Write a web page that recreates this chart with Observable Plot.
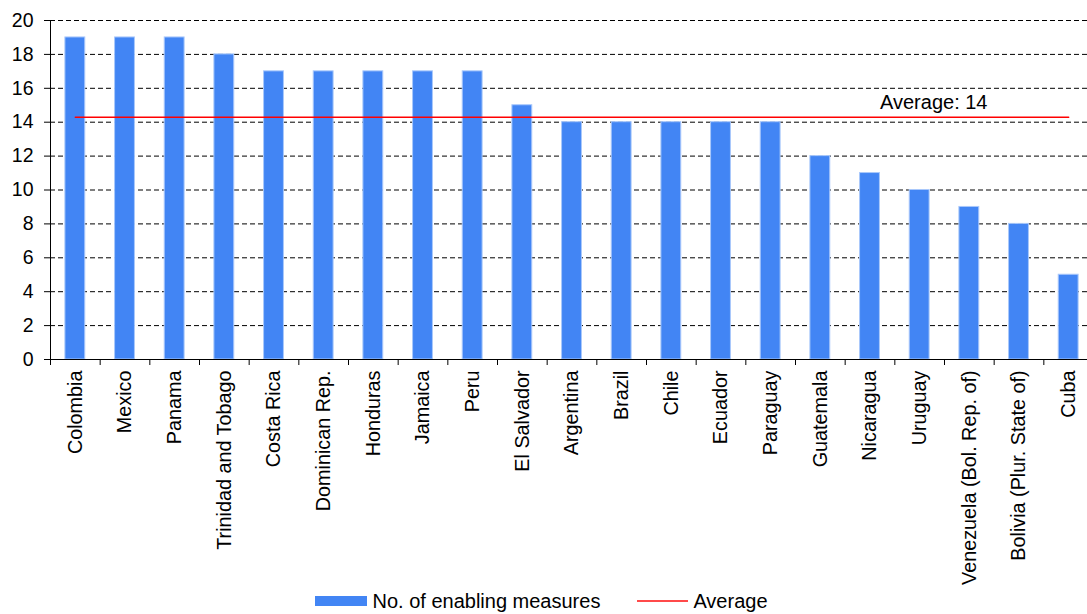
<!DOCTYPE html>
<html>
<head>
<meta charset="utf-8">
<script src="https://cdn.jsdelivr.net/npm/d3@7"></script>
<script src="https://cdn.jsdelivr.net/npm/@observablehq/plot@0.6"></script>
<style>
  html, body { margin: 0; padding: 0; background: #fff; overflow: hidden; }
  body { font-family: "Liberation Sans", Arial, sans-serif; width: 1087px; }
  #chart svg { display: block; }
  .legend { display: flex; justify-content: center; align-items: center; height: 26px; font-size: 20px; color: #000; margin-left: -4px; }
  .legend .item { display: flex; align-items: center; }
  .legend .swatch-bar { width: 52px; height: 10px; background: #4285F4; margin-right: 5px; }
  .legend .swatch-line { width: 51px; height: 2px; background: #ff4a4a; margin-right: 5px; margin-left: 37px; }
</style>
</head>
<body>
<div id="chart"></div>
<div class="legend">
  <div class="item"><div class="swatch-bar"></div><span id="lg-bar"></span></div>
  <div class="item"><div class="swatch-line"></div><span id="lg-avg"></span></div>
</div>
<script>
// Countries, in the order shown
const countries = [
  "Colombia", "Mexico", "Panama", "Trinidad and Tobago", "Costa Rica",
  "Dominican Rep.", "Honduras", "Jamaica", "Peru", "El Salvador",
  "Argentina", "Brazil", "Chile", "Ecuador", "Paraguay", "Guatemala",
  "Nicaragua", "Uruguay", "Venezuela (Bol. Rep. of)",
  "Bolivia (Plur. State of)", "Cuba"
];
// Number of enabling measures per country
const measures = [19, 19, 19, 18, 17, 17, 17, 17, 17, 15, 14, 14, 14, 14, 14, 12, 11, 10, 9, 8, 5];
// Y-axis tick values
const yTicks = [0, 2, 4, 6, 8, 10, 12, 14, 16, 18, 20];
// Series names
const seriesBar = "No. of enabling measures";
const seriesAvg = "Average";

const data = countries.map((c, i) => ({country: c, value: measures[i]}));
const average = d3.mean(measures);
const averageLabel = `Average: ${Math.round(average)}`;

const width = 1087, height = 588;
const left = 50, right = 1093; // band range extends just past the right edge
const step = (right - left) / countries.length;
const font = "Liberation Sans, Arial, sans-serif";

const chart = Plot.plot({
  width, height,
  marginTop: 20, marginLeft: left, marginRight: 0, marginBottom: 229,
  style: {fontFamily: font, fontSize: "19px", color: "#000", background: "#fff", overflow: "hidden"},
  x: {domain: countries, range: [left, right], paddingInner: 0.6, paddingOuter: 0.3, round: false, label: null},
  y: {domain: [0, 20], ticks: yTicks, label: null},
  marks: [
    // dashed gridlines
    Plot.ruleY(yTicks.filter(d => d > 0), {stroke: "#000", strokeWidth: 1, strokeDasharray: "5,3"}),
    Plot.barY(data, {x: "country", y: "value", fill: "#4285F4", stroke: "#a9c8fb", strokeWidth: 1}),
    // average line from first to last category
    Plot.line([{c: countries[0], v: average}, {c: countries[countries.length - 1], v: average}],
      {x: "c", y: "v", stroke: "#ff0000", strokeWidth: 1.5}),
    Plot.text([averageLabel], {frameAnchor: "right", y: () => average, text: d => d,
      textAnchor: "end", lineAnchor: "bottom", dx: -100, dy: -8, fontSize: 20}),
    // axes
    Plot.axisY({ticks: yTicks, tickSize: 6, tickPadding: 11, fontSize: 19.5, label: null}),
    Plot.axisX({tickSize: 6, tickFormat: () => "", dx: -step / 2, label: null}),
    Plot.axisX({tickSize: 0, tickPadding: 11, tickRotate: -90, fontSize: 19.8, label: null}),
    Plot.frame({anchor: "left", stroke: "#000"}),
    Plot.frame({anchor: "bottom", stroke: "#000"})
  ]
});
document.getElementById("chart").appendChild(chart);
document.getElementById("lg-bar").textContent = seriesBar;
document.getElementById("lg-avg").textContent = seriesAvg;
</script>
</body>
</html>
